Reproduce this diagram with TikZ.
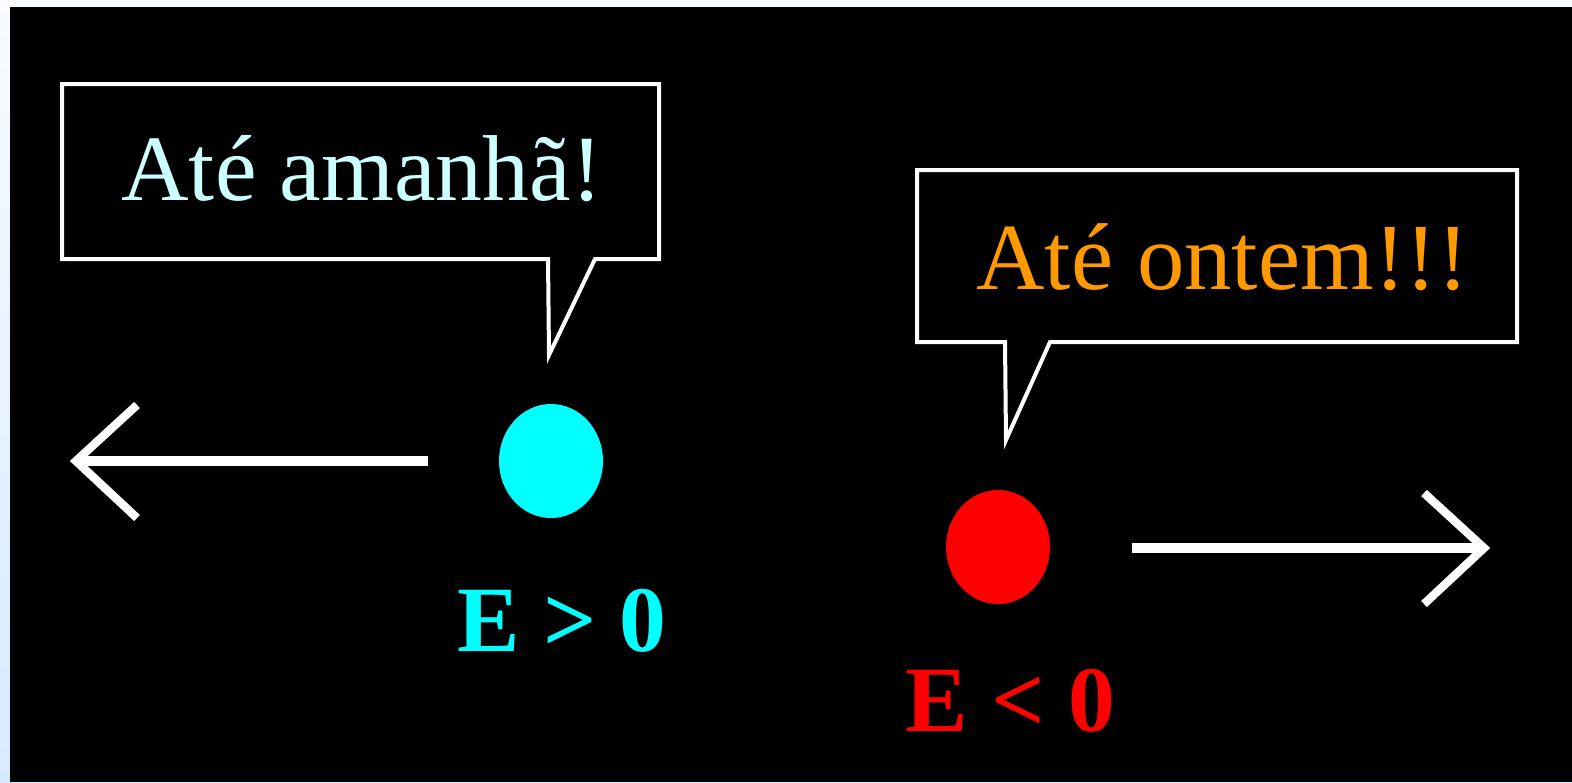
\documentclass[tikz,border=0pt]{standalone}
\usepackage{fontspec}
\setmainfont{Liberation Serif}
\usetikzlibrary{shapes.geometric}
\definecolor{bgblue}{HTML}{F8FBFF}
\definecolor{bgblue2}{HTML}{D6EAFF}
\definecolor{lightcyan}{HTML}{CCFFFF}
\definecolor{dotcyan}{HTML}{00FFFF}
\definecolor{dotred}{HTML}{FF0000}
\definecolor{orangetxt}{HTML}{FF9900}
\tikzset{
  callout/.style={draw=white, line width=2pt, line join=miter},
  shaft/.style={draw=white, line width=5pt},
  barb/.style={draw=white, line width=4.2pt, line join=miter},
  speech/.style={inner sep=0pt, anchor=base west},
  energy/.style={inner sep=0pt, anchor=base west, font=\fontsize{46.8pt}{50pt}\selectfont\bfseries},
  dot/.style={ellipse, inner sep=0pt, minimum width=52pt, minimum height=57pt, draw=none}
}
\begin{document}
\begin{tikzpicture}[x=0.5pt, y=-0.5pt]
\useasboundingbox (0,0) rectangle (1572,782);
\shade[top color=bgblue, bottom color=bgblue2] (0,0) rectangle (1572,782);
\fill[black] (10,7) rectangle (1572,782);

% left callout
\draw[callout] (548,259) -- (62,259) -- (62,84) -- (659,84) -- (659,259) -- (595,259) -- (549,355) -- cycle;
\node[speech, text=lightcyan, font=\fontsize{46.8pt}{50pt}\selectfont] (t1) at (121,200) {Até amanhã!};

% right callout
\draw[callout] (1005,342) -- (917,342) -- (917,170) -- (1517,170) -- (1517,342) -- (1050,342) -- (1006,440) -- cycle;
\node[speech, text=orangetxt, font=\fontsize{47.4pt}{50pt}\selectfont] (t2) at (976,289) {Até ontem!!!};

% dots
\node[dot, fill=dotcyan] (c1) at (551,461) {};
\node[dot, fill=dotred] (c2) at (998,547) {};

% labels
\node[energy, text=dotcyan] (e1) at (457,651) {E > 0};
\node[energy, text=dotred] (e2) at (905,731) {E < 0};

% left arrow
\coordinate (l0) at (428,461);
\coordinate (l1) at (80,461);
\coordinate (lt) at (76,461);
\coordinate (la) at (137,405);
\coordinate (lb) at (137,518);
\draw[shaft] (l0) -- (l1);
\draw[barb] (la) -- (lt) -- (lb);

% right arrow
\coordinate (r0) at (1132,548);
\coordinate (r1) at (1480,548);
\coordinate (rt) at (1484,548);
\coordinate (ra) at (1424,493);
\coordinate (rb) at (1424,604);
\draw[shaft] (r0) -- (r1);
\draw[barb] (ra) -- (rt) -- (rb);
\end{tikzpicture}
\end{document}
